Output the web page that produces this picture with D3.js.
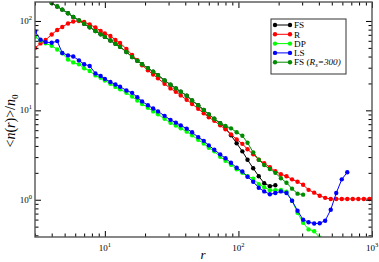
<!DOCTYPE html>
<html>
<head>
<meta charset="utf-8">
<script src="https://cdn.jsdelivr.net/npm/d3@7"></script>
<style>
  body { margin: 0; background: #fff; }
  svg { display: block; font-family: "Liberation Serif", "DejaVu Serif", serif; }
</style>
</head>
<body>
<div id="chart"></div>
<script>
// r values shared by every curve (log binned)
const rGrid = [3, 3.3, 3.6, 4, 4.4, 4.8, 5.3, 5.8, 6.4, 7, 7.7, 8.5, 9.3, 10, 11, 12, 13, 14.5, 16, 17.5,
  19, 21, 23, 25, 28, 31, 34, 37, 41, 45, 50, 55, 60, 66, 73, 80, 88, 97, 107, 117,
  129, 142, 156, 172, 189, 208, 229, 252, 277, 305, 335, 369, 406, 446, 491, 540, 594, 653, 718, 790,
  869, 956, 1000];

// <n(r)>/n0 for each model, aligned with rGrid (null = no point)
const fsVals = [null, null, null, 159, 145, 134, 122, 111, 101.6, 93.0, 85.0, 77.3, 70.8, 66.3, 60.4, 55.6, 51.4, 45.0, 39.6, 35.9,
  32.8, 29.7, 27.1, 24.8, 21.6, 19.4, 17.6, 16.2, 14.6, 12.9, 11.4, 10.1, 9.02, 8.04, 7.16, 6.38, 5.26, 4.28, 3.48, 2.80,
  2.25, 1.83, 1.53, 1.42, 1.45];
const rVals = [49.9, 56.1, 61.3, 70.7, 79.3, 85.7, 93.8, 98.7, 100, 97.5, 91.4, 84.6, 77.3, 72.5, 68.0, 61.3, 56.8, 48.7, 41.7, 36.4,
  32.0, 28.1, 25.2, 22.8, 19.8, 17.6, 16.1, 14.7, 13.1, 11.8, 10.4, 9.26, 8.35, 7.63, 6.80, 6.13, 5.39, 4.74, 4.22, 3.67,
  3.22, 2.80, 2.56, 2.31, 2.08, 1.93, 1.83, 1.69, 1.59, 1.47, 1.29, 1.20, 1.11, 1.05, 1.02, 1.02, 1.02, 1.02, 1.02, 1.02,
  1.02, 1.02, 1.02];
const dpVals = [66.6, 60.5, 56.3, 52.8, 48.0, 43.4, 37.1, 34.4, 32.7, 29.6, 27.6, 24.6, 23.1, 21.6, 19.8, 18.3, 17.2, 15.7, 14.3, 12.9,
  11.8, 10.7, 9.74, 9.02, 8.04, 7.25, 6.75, 6.29, 5.78, 5.26, 4.68, 4.25, 3.81, 3.48, 3.02, 2.73, 2.46, 2.19, 2.00, 1.83,
  1.72, 1.49, 1.38, 1.28, 1.28, 1.29, 1.23, 0.975, 0.716, 0.553, 0.466, 0.445, 0.376, 0.314];
const lsVals = [76.3, 61.7, 58.0, 57.1, 59.5, 43.9, 41.2, 40.1, 36.2, 32.8, 31.4, 25.9, 24.3, 22.5, 20.8, 19.5, 18.4, 16.7, 15.7, 14.0,
  12.6, 11.4, 10.5, 9.74, 8.68, 7.83, 7.29, 6.80, 6.24, 5.68, 5.02, 4.56, 4.06, 3.62, 3.22, 2.91, 2.59, 2.28, 2.07, 1.81,
  1.59, 1.36, 1.24, 1.15, 1.19, 1.24, 1.19, 0.975, 0.754, 0.598, 0.561, 0.542, 0.546, 0.583, 0.773, 1.19, 1.69, 2.03];
const fs300Vals = [null, null, null, 159, 145, 134, 122, 111, 101.6, 93.0, 85.0, 77.3, 70.8, 66.3, 60.4, 55.6, 51.4, 45.0, 39.6, 35.9,
  32.8, 29.7, 27.1, 24.8, 21.6, 19.4, 17.6, 16.2, 14.6, 12.9, 11.4, 10.1, 9.02, 8.04, 7.16, 6.71, 6.29, 5.68, 5.19, 4.34,
  3.39, 2.80, 2.44, 2.21, 2.00, 1.74, 1.55, 1.33, 1.17, 1.14];

const seriesNames = ['FS', 'R', 'DP', 'LS', 'FS300'];
const seriesColors = ['#000000', '#ff0000', '#00ff00', '#0000ff', '#008c00'];
const seriesValues = [fsVals, rVals, dpVals, lsVals, fs300Vals];

const xMajor = [10, 100, 1000];
const yMajor = [1, 10, 100];

const W = 379, H = 262;
const pL = 35, pR = 372, pT = 2, pB = 237;

const svg = d3.select('#chart').append('svg')
    .attr('width', W).attr('height', H);

const x = d3.scaleLog().domain([3, 1000]).range([pL, pR]);
const y = d3.scaleLog().domain([0.383, 163]).range([pB, pT]);

svg.append('clipPath').attr('id', 'plot-clip')
  .append('rect').attr('x', pL).attr('y', pT)
    .attr('width', pR - pL).attr('height', pB - pT);

// curves
const plot = svg.append('g').attr('clip-path', 'url(#plot-clip)');
const line = d3.line()
    .defined(d => d.v != null)
    .x(d => x(d.r)).y(d => y(d.v));

seriesValues.forEach((vals, i) => {
    const pts = vals.map((v, j) => ({ r: rGrid[j], v: v }));
    plot.append('path')
        .datum(pts)
        .attr('fill', 'none')
        .attr('stroke', seriesColors[i])
        .attr('stroke-width', 1)
        .attr('d', line);
    plot.selectAll('.m' + i)
        .data(pts.filter(d => d.v != null))
        .enter().append('circle')
        .attr('cx', d => x(d.r)).attr('cy', d => y(d.v))
        .attr('r', 2.2)
        .attr('fill', seriesColors[i]);
});

// ticks on all four sides, pointing inward
const xMinor = x.ticks().filter(t => !xMajor.includes(t));
const yMinor = y.ticks().filter(t => !yMajor.some(m => Math.abs(m - t) < 1e-9));

function ticks(axisFn, scale, vals, size, pos) {
    svg.append('g')
        .attr('transform', pos)
        .call(axisFn(scale).tickValues(vals).tickSize(-size).tickSizeOuter(0).tickFormat(''))
        .call(g => g.select('.domain').remove());
}
ticks(d3.axisBottom, x, xMajor, 6, `translate(0,${pB})`);
ticks(d3.axisBottom, x, xMinor, 3.5, `translate(0,${pB})`);
ticks(d3.axisTop, x, xMajor, 6, `translate(0,${pT})`);
ticks(d3.axisTop, x, xMinor, 3.5, `translate(0,${pT})`);
ticks(d3.axisLeft, y, yMajor, 6, `translate(${pL},0)`);
ticks(d3.axisLeft, y, yMinor, 3.5, `translate(${pL},0)`);
ticks(d3.axisRight, y, yMajor, 6, `translate(${pR},0)`);
ticks(d3.axisRight, y, yMinor, 3.5, `translate(${pR},0)`);

svg.append('rect')
    .attr('x', pL).attr('y', pT)
    .attr('width', pR - pL).attr('height', pB - pT)
    .attr('fill', 'none').attr('stroke', '#555').attr('stroke-width', 1.4);

// tick labels 10^k
function powLabel(sel) {
    sel.append('tspan').text('10');
    sel.append('tspan').attr('dy', -4).attr('font-size', 6.5).text(d => Math.round(Math.log10(d)));
}
svg.selectAll('.xl').data(xMajor).enter().append('text')
    .attr('x', d => x(d)).attr('y', 251)
    .attr('text-anchor', 'middle').attr('font-size', 9)
    .call(powLabel);
svg.selectAll('.yl').data(yMajor).enter().append('text')
    .attr('x', 32).attr('y', d => y(d) + 3)
    .attr('text-anchor', 'end').attr('font-size', 9)
    .call(powLabel);

// axis titles
svg.append('text')
    .attr('x', 203).attr('y', 259)
    .attr('text-anchor', 'middle').attr('font-size', 13).attr('font-style', 'italic')
    .text('r');

const yt = svg.append('text')
    .attr('transform', 'translate(15,121) rotate(-90)')
    .attr('text-anchor', 'middle').attr('font-size', 14);
yt.append('tspan').text('<');
yt.append('tspan').attr('font-style', 'italic').text('n');
yt.append('tspan').text('(');
yt.append('tspan').attr('font-style', 'italic').text('r');
yt.append('tspan').text(')>/');
yt.append('tspan').attr('font-style', 'italic').text('n');
yt.append('tspan').attr('dy', 3).attr('font-size', 9).text('0');

// legend
const lgX = 271, lgY = 19;
svg.append('rect')
    .attr('x', lgX).attr('y', lgY).attr('width', 75).attr('height', 55)
    .attr('fill', '#fff').attr('stroke', '#333').attr('stroke-width', 1);

seriesNames.forEach((name, i) => {
    const ly = 25 + i * 9.3;
    const g = svg.append('g');
    g.append('line')
        .attr('x1', 275).attr('x2', 290).attr('y1', ly).attr('y2', ly)
        .attr('stroke', seriesColors[i]).attr('stroke-width', 1);
    [275, 290].forEach(cx => g.append('circle')
        .attr('cx', cx).attr('cy', ly).attr('r', 2.2).attr('fill', seriesColors[i]));
    const t = g.append('text').attr('x', 294).attr('y', ly + 3.2).attr('font-size', 9.2);
    if (name === 'FS300') {
        t.append('tspan').text('FS (');
        t.append('tspan').attr('font-style', 'italic').text('R');
        t.append('tspan').attr('font-style', 'italic').attr('font-size', 6.5).attr('dy', 2).text('s');
        t.append('tspan').attr('font-style', 'italic').attr('dy', -2).text('=300)');
    } else {
        t.text(name);
    }
});
</script>
</body>
</html>
